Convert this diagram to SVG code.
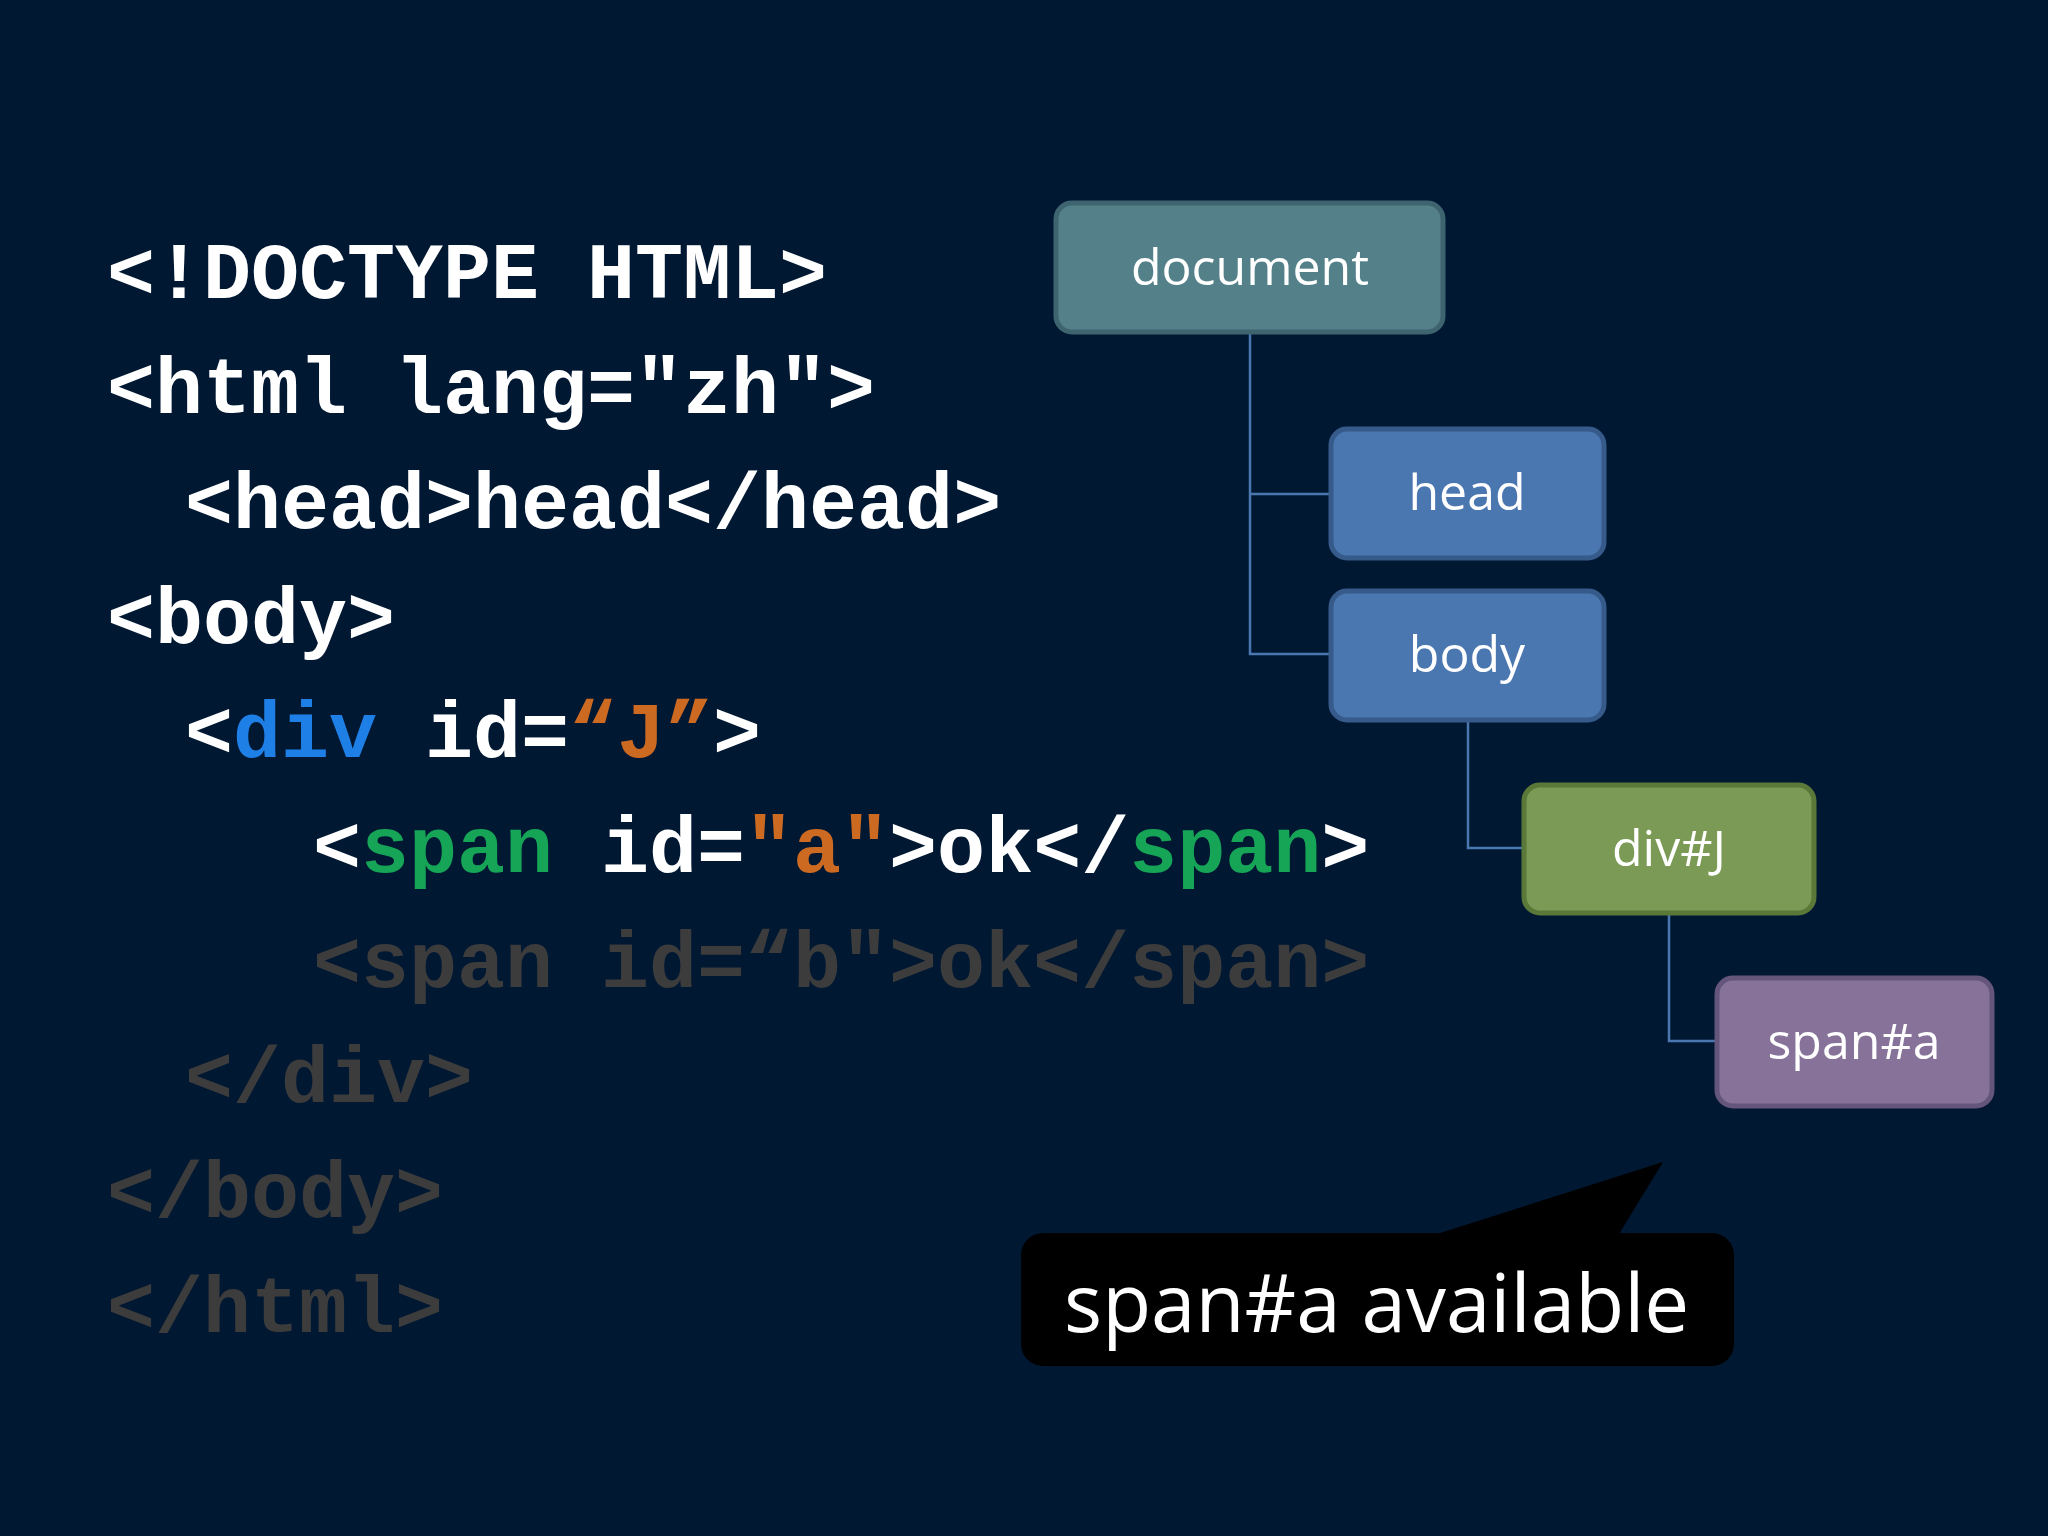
<svg xmlns="http://www.w3.org/2000/svg" width="2048" height="1536" viewBox="0 0 2048 1536">
<style>
.code{font-family:"Liberation Mono","Courier New",monospace;font-weight:bold;font-size:80px;fill:#ffffff}
.dim{fill:#3c3c3c}
.bl{fill:#1e80e6}.or{fill:#cc6a22}.gr{fill:#16a556}
.n{font-family:"Open Sans","Noto Sans",sans-serif;font-size:50px;fill:#ffffff;text-anchor:middle}
.c{stroke:#4a77b0;stroke-width:2.5;fill:none}
</style>
<rect width="2048" height="1536" fill="#011833"/>
<g id="code">
<text class="code" x="107" y="298">&lt;!DOCTYPE HTML&gt;</text>
<text class="code" x="107" y="413">&lt;html lang="zh"&gt;</text>
<text class="code" x="185" y="528">&lt;head&gt;head&lt;/head&gt;</text>
<text class="code" x="107" y="643">&lt;body&gt;</text>
<text class="code" x="185" y="757">&lt;<tspan class="bl">div</tspan> id=<tspan class="or">“J”</tspan>&gt;</text>
<text class="code" x="313" y="872">&lt;<tspan class="gr">span</tspan> id=<tspan class="or">"a"</tspan>&gt;ok&lt;/<tspan class="gr">span</tspan>&gt;</text>
<text class="code dim" x="313" y="987">&lt;span id=“b"&gt;ok&lt;/span&gt;</text>
<text class="code dim" x="185" y="1102">&lt;/div&gt;</text>
<text class="code dim" x="107" y="1217">&lt;/body&gt;</text>
<text class="code dim" x="107" y="1332">&lt;/html&gt;</text>
</g>
<g id="connectors">
<path class="c" d="M1250 333 V654 H1330 M1250 494 H1330"/>
<path class="c" d="M1468 720 V848 H1523"/>
<path class="c" d="M1669 913 V1041 H1716"/>
</g>
<g id="document"><rect x="1056" y="203" width="387" height="129" rx="16" fill="#548089" stroke="#3e6470" stroke-width="5"/><text class="n" x="1250" y="285">document</text></g>
<g id="head"><rect x="1331" y="429" width="273" height="129" rx="16" fill="#4a77b0" stroke="#365a8a" stroke-width="5"/><text class="n" x="1467" y="510">head</text></g>
<g id="body"><rect x="1331" y="591" width="273" height="129" rx="16" fill="#4a77b0" stroke="#365a8a" stroke-width="5"/><text class="n" x="1467" y="672">body</text></g>
<g id="divJ"><rect x="1524" y="785" width="290" height="128" rx="16" fill="#7a9a55" stroke="#5a7838" stroke-width="5"/><text class="n" x="1669" y="866">div#J</text></g>
<g id="spana"><rect x="1717" y="978" width="275" height="128" rx="16" fill="#87739a" stroke="#64557a" stroke-width="5"/><text class="n" x="1854" y="1059">span#a</text></g>
<g id="callout">
<path d="M1437 1234 L1663 1162 L1619 1234 Z" fill="#000"/>
<rect x="1021" y="1233" width="713" height="133" rx="22" fill="#000"/>
<text x="1064" y="1332" font-family="'Open Sans','Noto Sans',sans-serif" font-size="80" fill="#fff">span#a available</text>
</g>
</svg>
